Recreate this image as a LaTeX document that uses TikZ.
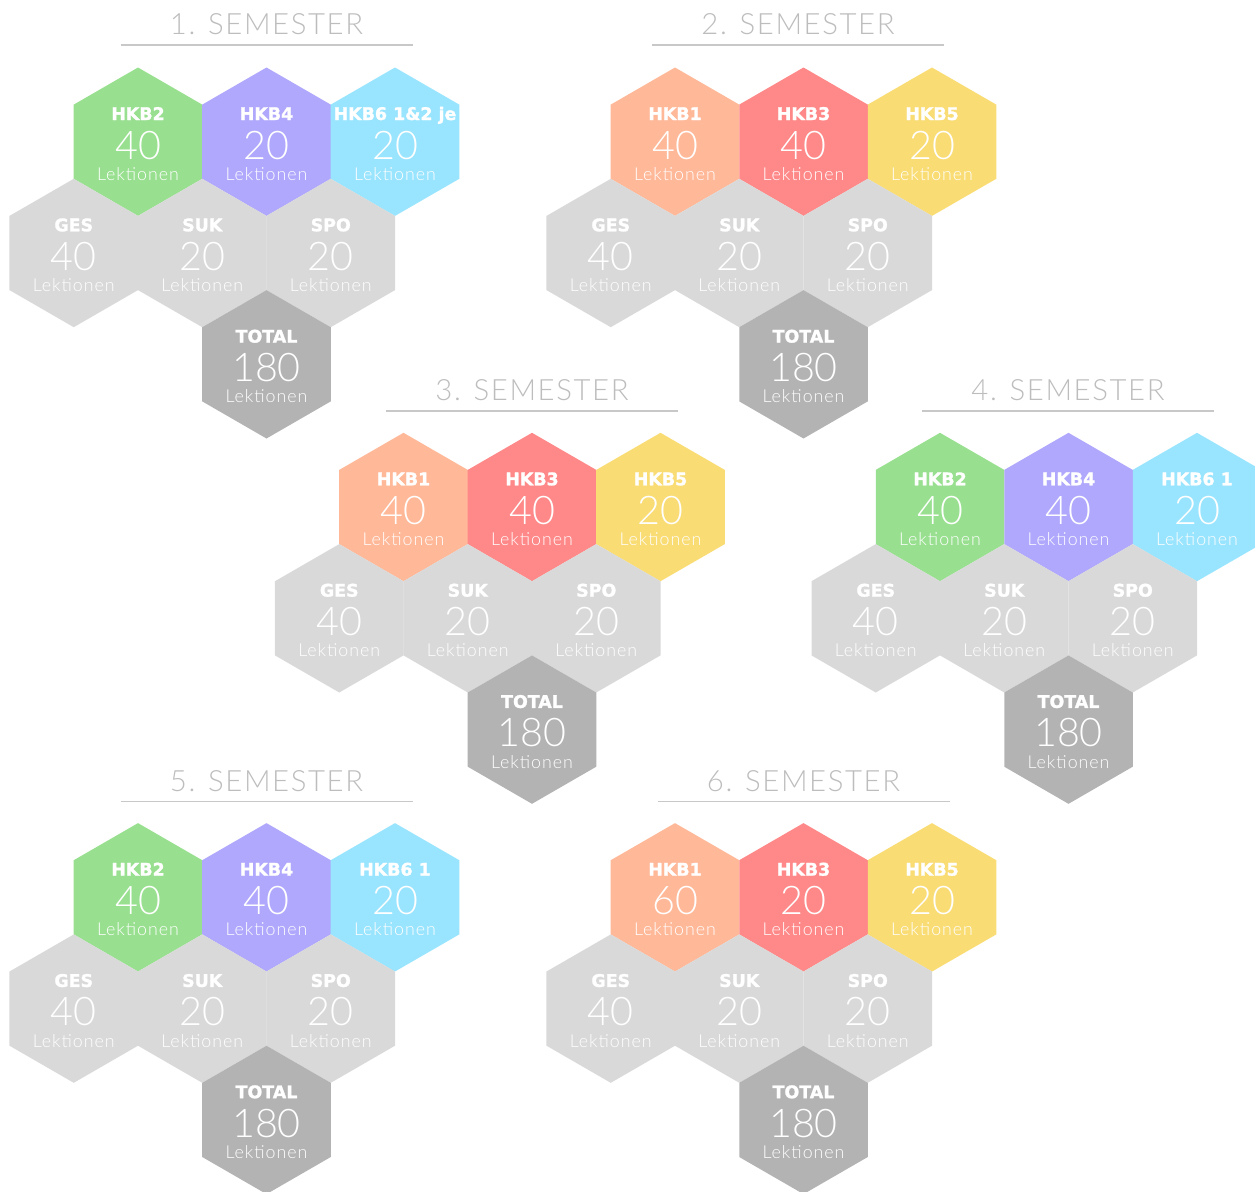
\documentclass[tikz,border=0pt]{standalone}
\usepackage{fontspec}
\usetikzlibrary{shapes.geometric, calc}

\newfontfamily\lightfont{Lato Light}
\newfontfamily\spacedfont{Lato Light}[LetterSpace=5.5]
\newfontfamily\heavyfont{DejaVu Sans}[BoldFeatures={FakeBold=1.5}]

\definecolor{hkbgreen}{HTML}{98E08F}
\definecolor{hkbpurple}{HTML}{B0A8FC}
\definecolor{hkbcyan}{HTML}{99E4FE}
\definecolor{hkborange}{HTML}{FFB898}
\definecolor{hkbred}{HTML}{FF8888}
\definecolor{hkbyellow}{HTML}{F9DC74}
\definecolor{coregray}{HTML}{D9D9D9}
\definecolor{totalgray}{HTML}{B3B3B3}
\definecolor{titlegray}{HTML}{BDBDBD}
\definecolor{linegray}{HTML}{C8C8C8}

% hexagon with label, number and unit
\newcommand{\hexcell}[5]{%
    \node[hexcell, fill=#3] (#1) at (#2) {};
    \node[hexlabel] (#1-lab) at ([yshift=21.7pt]#1.center) {#4};
    \node[hexnumber] (#1-num) at ([yshift=-17.3pt]#1.center) {#5};
    \node[hexunit] (#1-unit) at ([yshift=-38.6pt]#1.center) {Lektionen};
}

\begin{document}
\begin{tikzpicture}[
        x=1pt, y=-1pt,
        hexcell/.style={regular polygon, regular polygon sides=6, shape border rotate=30, minimum size=148.4pt, inner sep=0pt, outer sep=0pt},
        hexlabel/.style={anchor=base, inner sep=0pt, text=white, font=\heavyfont\bfseries\fontsize{17.4}{20}\selectfont},
        hexnumber/.style={anchor=base, inner sep=0pt, text=white, font=\lightfont\fontsize{39.5}{44}\selectfont},
        hexunit/.style={anchor=base, inner sep=0pt, text=white, font=\spacedfont\fontsize{17.8}{20}\selectfont},
        semtitle/.style={anchor=base, inner sep=0pt, text=titlegray, font=\spacedfont\fontsize{29.3}{32}\selectfont},
        titleline/.style={draw=linegray, line width=1.2pt}
    ]
        \clip (0,0) rectangle (1255,1191);

        % Titles
        \node[semtitle] (t1) at (266.5,34.3) {1. SEMESTER};
        \node[semtitle] (t2) at (798,34.3) {2. SEMESTER};
        \node[semtitle] (t3) at (532,400.3) {3. SEMESTER};
        \node[semtitle] (t4) at (1068,400.3) {4. SEMESTER};
        \node[semtitle] (t5) at (266.5,791) {5. SEMESTER};
        \node[semtitle] (t6) at (803.5,791) {6. SEMESTER};
        \foreach \t in {t1,t2,t3,t4,t5,t6}
            \draw[titleline] ([xshift=-146pt,yshift=-10.7pt]\t.base) -- ([xshift=146pt,yshift=-10.7pt]\t.base);

        % 1. Semester
        \coordinate (s1) at (266.5,141.7);
        \hexcell{s1a}{$(s1)+(-128.5,0)$}{hkbgreen}{HKB2}{40}
        \hexcell{s1b}{s1}{hkbpurple}{HKB4}{20}
        \hexcell{s1c}{$(s1)+(128.5,0)$}{hkbcyan}{HKB6 1\&2 je}{20}
        \hexcell{s1d}{$(s1)+(-192.75,111.3)$}{coregray}{GES}{40}
        \hexcell{s1e}{$(s1)+(-64.25,111.3)$}{coregray}{SUK}{20}
        \hexcell{s1f}{$(s1)+(64.25,111.3)$}{coregray}{SPO}{20}
        \hexcell{s1t}{$(s1)+(0,222.6)$}{totalgray}{TOTAL}{180}

        % 2. Semester
        \coordinate (s2) at (803.5,141.7);
        \hexcell{s2a}{$(s2)+(-128.5,0)$}{hkborange}{HKB1}{40}
        \hexcell{s2b}{s2}{hkbred}{HKB3}{40}
        \hexcell{s2c}{$(s2)+(128.5,0)$}{hkbyellow}{HKB5}{20}
        \hexcell{s2d}{$(s2)+(-192.75,111.3)$}{coregray}{GES}{40}
        \hexcell{s2e}{$(s2)+(-64.25,111.3)$}{coregray}{SUK}{20}
        \hexcell{s2f}{$(s2)+(64.25,111.3)$}{coregray}{SPO}{20}
        \hexcell{s2t}{$(s2)+(0,222.6)$}{totalgray}{TOTAL}{180}

        % 3. Semester
        \coordinate (s3) at (532,507);
        \hexcell{s3a}{$(s3)+(-128.5,0)$}{hkborange}{HKB1}{40}
        \hexcell{s3b}{s3}{hkbred}{HKB3}{40}
        \hexcell{s3c}{$(s3)+(128.5,0)$}{hkbyellow}{HKB5}{20}
        \hexcell{s3d}{$(s3)+(-192.75,111.3)$}{coregray}{GES}{40}
        \hexcell{s3e}{$(s3)+(-64.25,111.3)$}{coregray}{SUK}{20}
        \hexcell{s3f}{$(s3)+(64.25,111.3)$}{coregray}{SPO}{20}
        \hexcell{s3t}{$(s3)+(0,222.6)$}{totalgray}{TOTAL}{180}

        % 4. Semester
        \coordinate (s4) at (1068.5,507);
        \hexcell{s4a}{$(s4)+(-128.5,0)$}{hkbgreen}{HKB2}{40}
        \hexcell{s4b}{s4}{hkbpurple}{HKB4}{40}
        \hexcell{s4c}{$(s4)+(128.5,0)$}{hkbcyan}{HKB6 1}{20}
        \hexcell{s4d}{$(s4)+(-192.75,111.3)$}{coregray}{GES}{40}
        \hexcell{s4e}{$(s4)+(-64.25,111.3)$}{coregray}{SUK}{20}
        \hexcell{s4f}{$(s4)+(64.25,111.3)$}{coregray}{SPO}{20}
        \hexcell{s4t}{$(s4)+(0,222.6)$}{totalgray}{TOTAL}{180}

        % 5. Semester
        \coordinate (s5) at (266.5,897.3);
        \hexcell{s5a}{$(s5)+(-128.5,0)$}{hkbgreen}{HKB2}{40}
        \hexcell{s5b}{s5}{hkbpurple}{HKB4}{40}
        \hexcell{s5c}{$(s5)+(128.5,0)$}{hkbcyan}{HKB6 1}{20}
        \hexcell{s5d}{$(s5)+(-192.75,111.3)$}{coregray}{GES}{40}
        \hexcell{s5e}{$(s5)+(-64.25,111.3)$}{coregray}{SUK}{20}
        \hexcell{s5f}{$(s5)+(64.25,111.3)$}{coregray}{SPO}{20}
        \hexcell{s5t}{$(s5)+(0,222.6)$}{totalgray}{TOTAL}{180}

        % 6. Semester
        \coordinate (s6) at (803.5,897.3);
        \hexcell{s6a}{$(s6)+(-128.5,0)$}{hkborange}{HKB1}{60}
        \hexcell{s6b}{s6}{hkbred}{HKB3}{20}
        \hexcell{s6c}{$(s6)+(128.5,0)$}{hkbyellow}{HKB5}{20}
        \hexcell{s6d}{$(s6)+(-192.75,111.3)$}{coregray}{GES}{40}
        \hexcell{s6e}{$(s6)+(-64.25,111.3)$}{coregray}{SUK}{20}
        \hexcell{s6f}{$(s6)+(64.25,111.3)$}{coregray}{SPO}{20}
        \hexcell{s6t}{$(s6)+(0,222.6)$}{totalgray}{TOTAL}{180}
    \end{tikzpicture}
\end{document}
